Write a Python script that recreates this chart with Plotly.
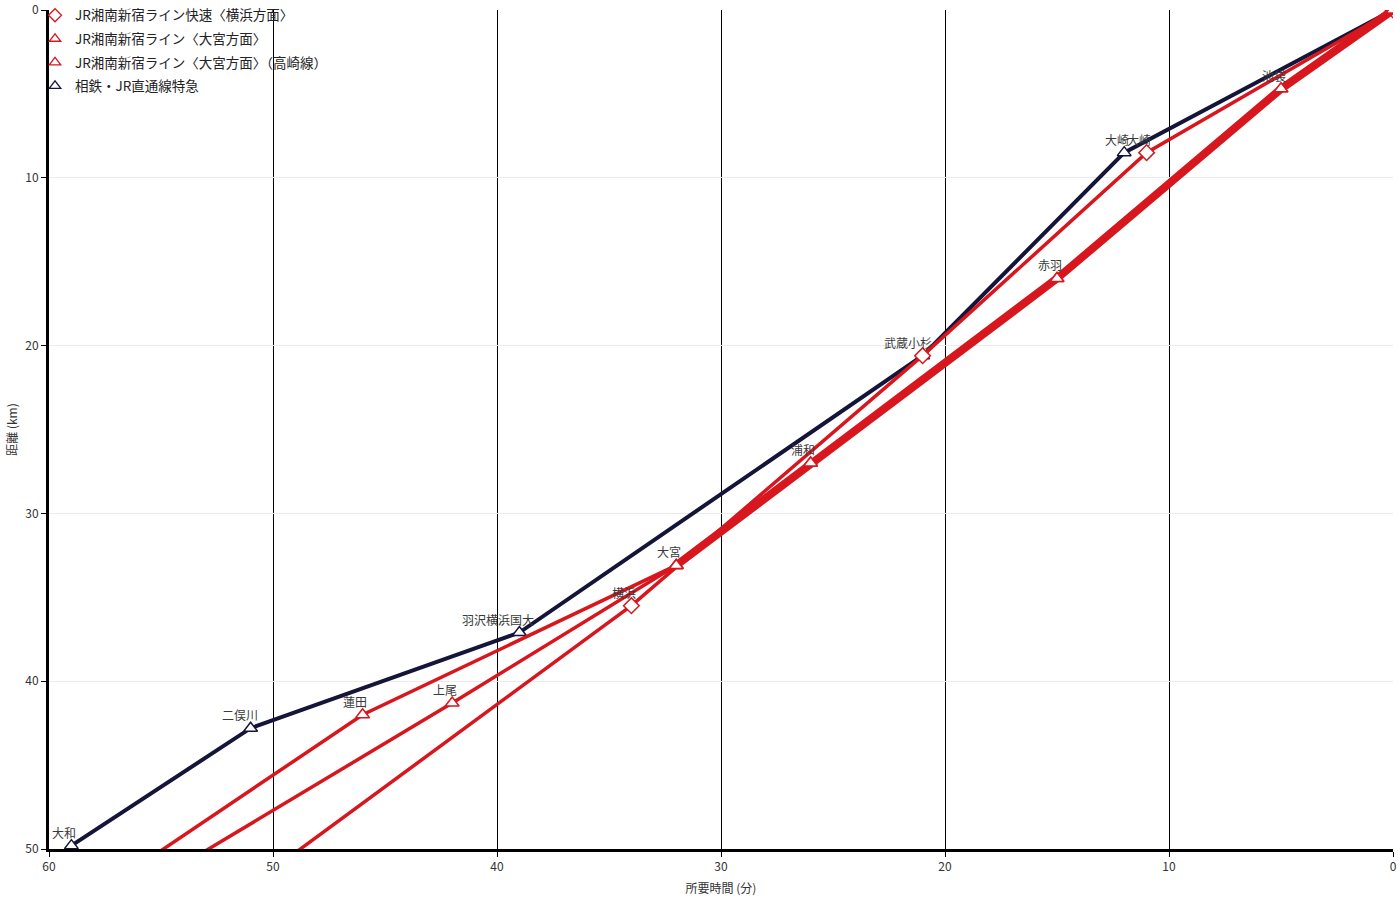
import plotly.graph_objects as go

# ---------------- data ----------------
# 相鉄・JR直通線特急
tk_names = ["", "大崎", "武蔵小杉", "羽沢横浜国大", "二俣川", "大和"]
tk_time = [0, 12, 21, 39, 51, 59]
tk_dist = [0, 8.5, 20.6, 37.1, 42.8, 49.8]

# JR湘南新宿ライン快速〈横浜方面〉
yk_names = ["", "大崎", "武蔵小杉", "横浜", ""]
yk_time = [0, 11, 21, 34, 50]
yk_dist = [0, 8.5, 20.6, 35.5, 51.2]

# JR湘南新宿ライン〈大宮方面〉
om_names = ["", "池袋", "赤羽", "浦和", "大宮", "蓮田", ""]
om_time = [0, 5, 15, 26, 32, 46, 57]
om_dist = [0, 4.7, 16.0, 27.0, 33.1, 42.0, 51.9]

# JR湘南新宿ライン〈大宮方面〉（高崎線）
tz_names = ["", "池袋", "赤羽", "浦和", "大宮", "上尾", ""]
tz_time = [0, 5, 15, 26, 32, 42, 55]
tz_dist = [0, 4.7, 16.0, 27.0, 33.1, 41.3, 51.7]
tz_shared = 5  # number of leading stops shared with 大宮方面

legend_names = [
    "JR湘南新宿ライン快速〈横浜方面〉",
    "JR湘南新宿ライン〈大宮方面〉",
    "JR湘南新宿ライン〈大宮方面〉（高崎線）",
    "相鉄・JR直通線特急",
]

x_ticks = [60, 50, 40, 30, 20, 10, 0]
y_ticks = [0, 10, 20, 30, 40, 50]

RED = "#d8161d"
NAVY = "#15153a"
FONT = "Noto Sans CJK JP, Noto Sans, sans-serif"

fig = go.Figure()


def add_line(t, d, color, width, symbol):
    fig.add_trace(go.Scatter(
        x=t, y=d, mode="lines+markers",
        line=dict(color=color, width=width),
        marker=dict(symbol=symbol, size=12, color="white",
                    line=dict(color=color, width=1.5)),
        showlegend=False, hoverinfo="skip",
    ))


add_line(tk_time, tk_dist, NAVY, 4, "triangle-up")
add_line(yk_time, yk_dist, RED, 3.5, "diamond")
add_line(om_time, om_dist, RED, 3.5, "triangle-up")
add_line(tz_time[:tz_shared], tz_dist[:tz_shared], RED, 8, "triangle-up")
add_line(tz_time[tz_shared - 1:], tz_dist[tz_shared - 1:], RED, 3.5, "triangle-up")

# legend entries (marker only)
leg_sym = ["diamond-open", "triangle-up-open", "triangle-up-open", "triangle-up-open"]
leg_col = [RED, RED, RED, NAVY]
for i, (nm, sy, co) in enumerate(zip(legend_names, leg_sym, leg_col)):
    fig.add_trace(go.Scatter(
        x=[None], y=[None], mode="markers", name=nm,
        marker=dict(symbol=sy, size=10, color=co, line=dict(color=co, width=1.3)),
        legendgroup=f"g{i}", showlegend=True,
    ))

# station labels
seen = set()
for names, ts, ds in [(tk_names, tk_time, tk_dist), (yk_names, yk_time, yk_dist),
                      (om_names, om_time, om_dist), (tz_names, tz_time, tz_dist)]:
    for n, t, d in zip(names, ts, ds):
        if not n or (n, t, d) in seen:
            continue
        seen.add((n, t, d))
        fig.add_annotation(
            x=t, y=d, text=n, showarrow=False,
            xanchor="center", yanchor="bottom",
            xshift=-3.6 * len(n), yshift=3,
            font=dict(size=12, color="#3a3a3a", family=FONT),
        )

fig.update_layout(
    width=1400, height=900,
    margin=dict(l=49, r=7, t=10, b=51, autoexpand=False),
    paper_bgcolor="white", plot_bgcolor="white",
    font=dict(family=FONT, color="#333"),
    legend=dict(
        x=-0.0104, y=1.012, xanchor="left", yanchor="top",
        bgcolor="rgba(0,0,0,0)", font=dict(size=13.5, color="#222", family=FONT),
        traceorder="grouped", tracegroupgap=3,
    ),
)
fig.update_xaxes(
    range=[60, 0], tickvals=x_ticks, ticktext=[str(v) for v in x_ticks],
    showgrid=True, gridcolor="black", gridwidth=1,
    showline=True, linecolor="black", linewidth=3,
    ticks="outside", ticklen=5, tickcolor="black",
    zeroline=False, tickfont=dict(size=12, color="#333"), automargin=False,
    title=dict(text="所要時間 (分)", font=dict(size=12, color="#333"), standoff=12),
)
fig.update_yaxes(
    range=[50, 0], tickvals=y_ticks, ticktext=[str(v) for v in y_ticks],
    showgrid=True, gridcolor="#ebebeb", gridwidth=1,
    showline=True, linecolor="black", linewidth=3,
    ticks="outside", ticklen=5, tickcolor="black",
    zeroline=False, tickfont=dict(size=12, color="#333"), automargin=False,
    title=dict(text="距離 (km)", font=dict(size=12, color="#333"), standoff=6),
)

fig.write_html("out.html")
